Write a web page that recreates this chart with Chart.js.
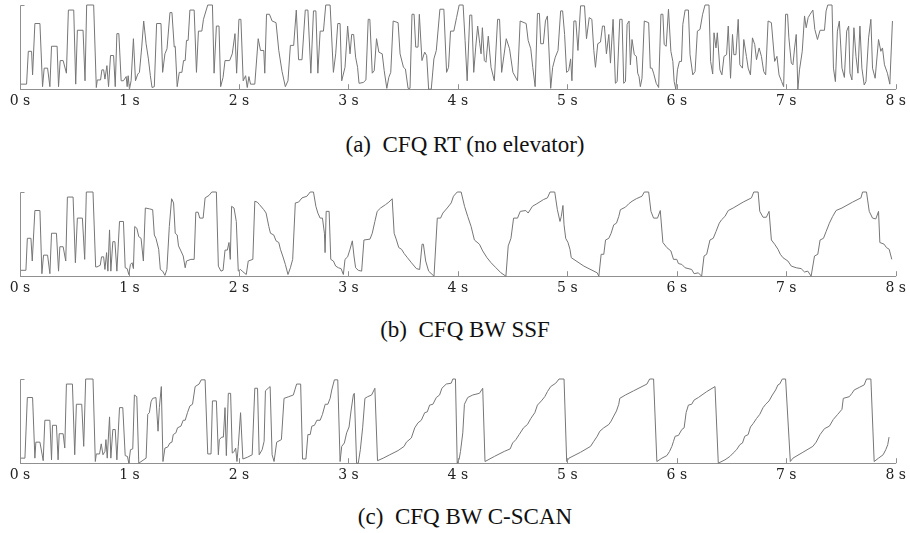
<!DOCTYPE html>
<html>
<head>
<meta charset="utf-8">
<script src="https://cdn.jsdelivr.net/npm/chart.js@4.4.0/dist/chart.umd.min.js"></script>
<style>
  body { margin: 0; background: #fff; width: 910px; height: 533px; position: relative; overflow: hidden; }
  .panel { position: absolute; left: 0; width: 910px; height: 114px; }
  .caption { position: absolute; left: 0; width: 930px; text-align: center; font-family: "Liberation Serif", serif; font-size: 23px; line-height: 26px; color: #111; }
</style>
</head>
<body>
<div class="panel" style="top:0px"><canvas id="chartA"></canvas></div>
<div class="caption" id="capA" style="top:132px"></div>
<div class="panel" style="top:187px"><canvas id="chartB"></canvas></div>
<div class="caption" id="capB" style="top:317px"></div>
<div class="panel" style="top:374px"><canvas id="chartC"></canvas></div>
<div class="caption" id="capC" style="top:504px"></div>
<script>
// seconds on x, head position (0 = bottom, 100 = top of panel) on y
const secondLabels = ['0 s', '1 s', '2 s', '3 s', '4 s', '5 s', '6 s', '7 s', '8 s'];
const captions = ['(a)\u2002CFQ RT (no elevator)', '(b)\u2002CFQ BW SSF', '(c)\u2002CFQ BW C-SCAN'];

const rtTrace = [
  [0.006,6],[0.06,6],[0.076,45],[0.106,45],[0.115,17],[0.136,78],[0.182,78],[0.206,3],[0.221,25],[0.252,25],
  [0.273,3],[0.288,51],[0.339,51],[0.352,3],[0.367,34],[0.394,34],[0.424,19],[0.442,94],[0.491,94],[0.509,6],
  [0.524,70],[0.576,70],[0.594,10],[0.609,100],[0.673,100],[0.697,2],[0.706,11],[0.736,11],[0.748,23],[0.764,23],
  [0.776,12],[0.794,28],[0.809,3],[0.827,40],[0.855,40],[0.870,3],[0.885,66],[0.903,66],[0.924,10],[0.945,10],
  [0.970,15],[0.979,3],[0.988,16],[1.0,0],[1.015,10],[1.036,60],[1.055,10],[1.076,18],[1.091,20],[1.112,50],
  [1.130,81],[1.152,54],[1.173,36],[1.191,16],[1.206,2],[1.227,3],[1.248,78],[1.288,78],[1.303,20],[1.324,42],
  [1.343,48],[1.370,91],[1.388,91],[1.409,50],[1.418,51],[1.436,3],[1.455,20],[1.479,20],[1.494,34],[1.509,34],
  [1.521,58],[1.536,58],[1.552,94],[1.591,94],[1.612,20],[1.630,69],[1.661,69],[1.676,83],[1.715,100],[1.758,100],
  [1.773,19],[1.794,75],[1.818,75],[1.833,3],[1.855,14],[1.873,34],[1.915,34],[1.939,42],[1.964,66],[1.979,19],
  [2.0,83],[2.018,83],[2.039,10],[2.061,16],[2.076,2],[2.091,15],[2.106,6],[2.145,6],[2.176,60],[2.197,46],
  [2.227,46],[2.236,19],[2.252,89],[2.279,89],[2.303,81],[2.339,79],[2.364,46],[2.394,21],[2.424,3],[2.448,10],
  [2.470,52],[2.5,52],[2.524,94],[2.545,35],[2.576,35],[2.606,94],[2.630,94],[2.657,19],[2.681,93],[2.703,93],
  [2.721,19],[2.742,69],[2.772,69],[2.793,100],[2.833,100],[2.863,20],[2.884,42],[2.903,78],[2.924,78],[2.939,10],
  [2.969,26],[2.993,75],[3.015,42],[3.030,65],[3.048,65],[3.066,38],[3.084,26],[3.097,7],[3.136,8],[3.160,11],
  [3.181,83],[3.196,83],[3.218,19],[3.236,22],[3.257,60],[3.278,44],[3.309,42],[3.327,22],[3.351,1],[3.369,14],
  [3.387,20],[3.409,81],[3.454,79],[3.472,42],[3.503,26],[3.521,24],[3.545,1],[3.563,1],[3.581,89],[3.600,89],
  [3.615,50],[3.636,50],[3.648,89],[3.672,34],[3.697,44],[3.715,40],[3.733,0],[3.757,0],[3.781,36],[3.803,46],
  [3.836,95],[3.872,95],[3.897,20],[3.915,26],[3.933,69],[3.963,69],[3.988,85],[4.012,100],[4.048,100],[4.066,58],
  [4.085,10],[4.109,88],[4.127,88],[4.145,20],[4.163,50],[4.181,75],[4.200,54],[4.212,42],[4.224,73],[4.242,34],
  [4.257,32],[4.278,63],[4.303,26],[4.333,10],[4.363,83],[4.381,83],[4.400,20],[4.442,60],[4.472,48],[4.503,20],
  [4.545,10],[4.569,81],[4.624,78],[4.642,58],[4.666,48],[4.684,26],[4.706,3],[4.727,90],[4.745,90],[4.757,54],
  [4.781,54],[4.800,81],[4.818,87],[4.848,1],[4.866,26],[4.890,38],[4.915,46],[4.939,93],[4.957,93],[4.975,65],
  [4.993,20],[5.012,22],[5.030,36],[5.042,10],[5.060,81],[5.078,81],[5.097,46],[5.121,99],[5.157,99],[5.175,60],
  [5.200,85],[5.224,83],[5.242,46],[5.257,26],[5.278,54],[5.303,56],[5.321,75],[5.339,75],[5.357,42],[5.379,65],
  [5.394,31],[5.418,83],[5.439,7],[5.455,9],[5.479,83],[5.500,83],[5.515,7],[5.531,9],[5.546,77],[5.564,81],
  [5.576,29],[5.591,59],[5.612,41],[5.631,39],[5.643,19],[5.655,15],[5.667,3],[5.682,13],[5.703,81],[5.743,79],
  [5.758,25],[5.773,25],[5.788,19],[5.812,7],[5.834,2],[5.855,89],[5.873,89],[5.885,53],[5.903,51],[5.924,95],
  [5.946,45],[5.964,33],[5.976,9],[5.991,0],[6.006,23],[6.024,33],[6.043,33],[6.055,77],[6.076,94],[6.106,94],
  [6.121,41],[6.146,17],[6.167,21],[6.188,69],[6.212,71],[6.236,89],[6.258,100],[6.294,100],[6.309,33],[6.328,18],
  [6.340,67],[6.358,49],[6.370,67],[6.394,23],[6.412,17],[6.431,39],[6.455,41],[6.470,75],[6.491,13],[6.509,65],
  [6.521,41],[6.540,41],[6.561,83],[6.576,29],[6.600,25],[6.612,59],[6.636,39],[6.652,25],[6.673,17],[6.691,61],
  [6.712,53],[6.728,35],[6.752,49],[6.773,39],[6.794,21],[6.812,17],[6.834,81],[6.864,79],[6.894,33],[6.915,39],
  [6.934,17],[6.958,9],[6.976,3],[6.994,89],[7.012,89],[7.024,61],[7.046,31],[7.061,29],[7.076,49],[7.091,65],
  [7.106,0],[7.121,23],[7.146,45],[7.167,87],[7.182,73],[7.200,85],[7.218,89],[7.243,94],[7.261,71],[7.285,59],
  [7.309,70],[7.349,70],[7.364,93],[7.379,100],[7.418,100],[7.431,25],[7.449,9],[7.467,69],[7.485,81],[7.509,25],
  [7.531,14],[7.552,69],[7.570,75],[7.582,19],[7.600,11],[7.618,73],[7.637,39],[7.655,19],[7.673,75],[7.691,25],
  [7.712,5],[7.728,9],[7.752,61],[7.773,83],[7.788,25],[7.812,13],[7.843,59],[7.864,45],[7.879,49],[7.897,29],
  [7.924,19],[7.946,6],[7.970,81]
];

const ssfTrace = [
  [0.006,7],[0.054,7],[0.067,45],[0.100,45],[0.112,18],[0.136,78],[0.182,78],[0.200,3],[0.215,25],[0.252,25],
  [0.273,3],[0.288,51],[0.333,51],[0.352,6],[0.364,35],[0.394,35],[0.418,18],[0.433,94],[0.485,94],[0.506,16],
  [0.524,69],[0.570,69],[0.591,20],[0.606,100],[0.667,100],[0.691,11],[0.703,11],[0.733,13],[0.745,23],[0.764,23],
  [0.776,8],[0.791,28],[0.803,6],[0.818,55],[0.830,6],[0.848,41],[0.867,41],[0.885,6],[0.909,65],[0.945,65],
  [0.961,10],[0.979,9],[0.994,2],[1.009,14],[1.024,16],[1.036,9],[1.048,59],[1.067,57],[1.085,47],[1.106,45],
  [1.127,18],[1.145,81],[1.182,80],[1.212,79],[1.227,49],[1.242,45],[1.267,32],[1.282,8],[1.303,6],[1.324,1],
  [1.342,8],[1.364,59],[1.385,92],[1.403,87],[1.418,51],[1.436,49],[1.448,36],[1.470,30],[1.491,24],[1.509,10],
  [1.521,18],[1.561,20],[1.591,20],[1.606,76],[1.627,76],[1.642,69],[1.673,69],[1.691,93],[1.727,96],[1.752,100],
  [1.794,100],[1.812,12],[1.836,6],[1.855,7],[1.873,31],[1.894,31],[1.909,40],[1.921,20],[1.933,83],[1.955,81],
  [1.976,65],[1.994,6],[2.015,8],[2.030,6],[2.067,2],[2.085,18],[2.127,20],[2.145,89],[2.167,88],[2.188,85],
  [2.227,79],[2.248,75],[2.273,59],[2.288,51],[2.318,49],[2.339,42],[2.364,40],[2.379,32],[2.400,24],[2.424,14],
  [2.448,2],[2.470,10],[2.491,20],[2.515,87],[2.545,88],[2.576,93],[2.621,95],[2.651,100],[2.681,100],[2.703,83],
  [2.721,75],[2.742,69],[2.763,69],[2.781,51],[2.787,28],[2.797,77],[2.824,77],[2.839,20],[2.863,18],[2.884,12],
  [2.909,10],[2.933,9],[2.954,2],[2.969,20],[2.993,23],[3.015,32],[3.036,42],[3.051,24],[3.066,10],[3.090,7],
  [3.121,6],[3.142,43],[3.197,44],[3.218,51],[3.242,65],[3.263,77],[3.294,81],[3.339,85],[3.370,88],[3.400,92],
  [3.418,51],[3.439,43],[3.460,34],[3.485,32],[3.509,27],[3.539,22],[3.576,16],[3.621,9],[3.651,8],[3.673,38],
  [3.685,38],[3.706,18],[3.733,6],[3.782,0],[3.812,69],[3.842,69],[3.863,75],[3.903,81],[3.939,87],[3.960,95],
  [3.994,100],[4.030,100],[4.061,83],[4.090,71],[4.121,59],[4.151,43],[4.197,38],[4.227,30],[4.266,22],[4.303,16],
  [4.348,10],[4.394,4],[4.439,0],[4.460,36],[4.485,45],[4.509,69],[4.545,69],[4.570,77],[4.621,78],[4.642,75],
  [4.681,83],[4.721,86],[4.782,91],[4.818,93],[4.842,100],[4.885,100],[4.909,79],[4.933,65],[4.945,71],[4.960,84],
  [4.970,61],[4.985,45],[5.006,40],[5.024,32],[5.036,22],[5.151,12],[5.273,4],[5.288,0],[5.309,26],[5.333,26],
  [5.349,43],[5.379,45],[5.400,51],[5.424,61],[5.449,63],[5.470,71],[5.485,79],[5.531,82],[5.561,86],[5.591,89],
  [5.630,92],[5.682,95],[5.703,100],[5.743,100],[5.764,77],[5.788,69],[5.824,69],[5.849,78],[5.873,40],[5.909,34],
  [5.946,30],[5.970,20],[6.000,20],[6.015,15],[6.046,14],[6.076,10],[6.136,8],[6.158,3],[6.197,4],[6.227,0],
  [6.249,24],[6.273,26],[6.303,43],[6.333,45],[6.358,53],[6.388,63],[6.409,67],[6.440,71],[6.470,78],[6.515,81],
  [6.606,88],[6.682,93],[6.703,100],[6.743,100],[6.758,77],[6.788,70],[6.818,70],[6.843,77],[6.864,43],[6.894,38],
  [6.924,32],[6.946,26],[6.970,22],[7.015,18],[7.046,12],[7.091,10],[7.136,9],[7.167,5],[7.197,6],[7.227,0],
  [7.258,24],[7.288,26],[7.309,43],[7.340,45],[7.364,53],[7.394,63],[7.424,71],[7.455,78],[7.509,81],[7.606,88],
  [7.682,93],[7.697,100],[7.733,100],[7.758,77],[7.788,69],[7.818,68],[7.843,77],[7.855,40],[7.894,38],[7.915,34],
  [7.940,32],[7.964,20]
];

const cscanTrace = [
  [0.006,6],[0.045,6],[0.067,78],[0.115,78],[0.136,6],[0.145,25],[0.182,25],[0.212,3],[0.227,51],[0.273,51],
  [0.288,4],[0.297,45],[0.333,45],[0.348,4],[0.358,35],[0.394,35],[0.409,18],[0.424,94],[0.479,94],[0.500,10],
  [0.515,70],[0.564,70],[0.582,20],[0.600,100],[0.667,100],[0.688,2],[0.697,11],[0.727,11],[0.742,23],[0.758,10],
  [0.776,14],[0.785,28],[0.797,6],[0.818,55],[0.830,6],[0.848,40],[0.870,40],[0.885,4],[0.909,66],[0.939,66],
  [0.961,9],[0.982,8],[0.994,0],[1.009,16],[1.030,17],[1.045,81],[1.067,79],[1.085,0],[1.152,6],[1.167,58],
  [1.182,60],[1.197,73],[1.212,77],[1.242,78],[1.261,38],[1.273,66],[1.291,91],[1.306,2],[1.324,18],[1.348,19],
  [1.370,24],[1.388,25],[1.400,34],[1.424,36],[1.439,42],[1.470,44],[1.491,51],[1.509,51],[1.530,60],[1.552,68],
  [1.576,70],[1.600,91],[1.636,94],[1.655,99],[1.691,99],[1.715,11],[1.745,11],[1.758,74],[1.794,74],[1.812,10],
  [1.821,28],[1.842,31],[1.858,31],[1.873,66],[1.885,9],[1.903,83],[1.924,83],[1.939,12],[1.958,14],[1.970,18],
  [1.982,2],[1.994,20],[2.015,60],[2.036,5],[2.076,7],[2.121,10],[2.145,89],[2.170,89],[2.185,10],[2.212,16],
  [2.230,26],[2.242,86],[2.267,89],[2.285,91],[2.303,10],[2.321,2],[2.345,25],[2.388,28],[2.412,77],[2.455,79],
  [2.497,81],[2.527,94],[2.564,94],[2.581,5],[2.612,5],[2.630,34],[2.651,34],[2.666,44],[2.690,45],[2.712,51],
  [2.742,51],[2.763,58],[2.788,70],[2.812,70],[2.833,77],[2.848,87],[2.872,99],[2.903,99],[2.924,2],[2.939,20],
  [2.963,24],[2.984,36],[3.006,43],[3.024,62],[3.045,81],[3.054,83],[3.075,0],[3.090,0],[3.109,16],[3.130,42],
  [3.151,77],[3.176,79],[3.212,81],[3.242,89],[3.266,3],[3.318,6],[3.378,10],[3.454,15],[3.509,20],[3.530,25],
  [3.575,30],[3.606,42],[3.636,48],[3.666,51],[3.697,60],[3.721,61],[3.742,69],[3.772,70],[3.803,78],[3.833,81],
  [3.854,89],[3.894,94],[3.939,95],[3.954,100],[3.978,100],[3.994,0],[4.012,5],[4.024,14],[4.045,36],[4.060,70],
  [4.090,78],[4.136,81],[4.197,83],[4.227,89],[4.248,2],[4.333,8],[4.424,14],[4.478,17],[4.500,24],[4.530,28],
  [4.560,34],[4.600,42],[4.636,46],[4.666,53],[4.703,60],[4.727,69],[4.763,74],[4.794,79],[4.818,85],[4.848,91],
  [4.894,95],[4.924,100],[4.970,100],[4.994,2],[5.015,6],[5.121,13],[5.212,20],[5.242,26],[5.273,32],[5.297,38],
  [5.333,42],[5.379,46],[5.400,50],[5.424,56],[5.449,62],[5.470,70],[5.479,77],[5.531,81],[5.606,86],[5.727,94],
  [5.752,100],[5.788,100],[5.818,2],[5.864,6],[5.909,9],[5.934,14],[5.955,20],[5.970,26],[5.985,32],[6.015,33],
  [6.046,40],[6.067,42],[6.085,60],[6.106,69],[6.136,70],[6.158,75],[6.197,78],[6.273,85],[6.349,91],[6.379,0],
  [6.440,4],[6.485,8],[6.515,12],[6.546,16],[6.576,22],[6.600,24],[6.621,32],[6.652,34],[6.673,43],[6.697,47],
  [6.728,53],[6.758,58],[6.788,66],[6.812,70],[6.843,74],[6.873,81],[6.903,87],[6.924,93],[6.940,94],[6.964,100],
  [6.994,100],[7.037,2],[7.061,6],[7.152,13],[7.243,20],[7.273,25],[7.309,34],[7.349,41],[7.394,44],[7.430,52],
  [7.470,58],[7.509,64],[7.521,77],[7.576,79],[7.600,83],[7.621,87],[7.667,90],[7.712,93],[7.733,100],[7.773,100],
  [7.803,2],[7.843,6],[7.885,10],[7.909,16],[7.927,22],[7.939,31]
];

const lineColor = '#767676';
const axisColor = '#909090';

// little tick marks pointing up from the axis, plus the bracket on the left
const axisMarks = {
  id: 'axisMarks',
  afterDatasetsDraw(chart) {
    const ctx = chart.ctx;
    const area = chart.chartArea;
    const xs = chart.scales.x;
    ctx.save();
    ctx.strokeStyle = axisColor;
    ctx.lineWidth = 1;
    ctx.beginPath();
    const x0 = Math.round(xs.getPixelForValue(0)) + 0.5;
    const top = Math.round(area.top) + 0.5;
    ctx.moveTo(x0 + 4, top);
    ctx.lineTo(x0, top);
    ctx.lineTo(x0, area.bottom);
    for (let s = 1; s < secondLabels.length; s++) {
      const px = Math.round(xs.getPixelForValue(s)) + 0.5;
      ctx.moveTo(px, area.bottom);
      ctx.lineTo(px, area.bottom - 5);
    }
    ctx.stroke();
    ctx.restore();
  }
};

function makeChart(id, trace) {
  const ctx = document.getElementById(id).getContext('2d');
  return new Chart(ctx, {
    type: 'line',
    data: {
      datasets: [{
        data: trace.map(p => ({ x: p[0], y: p[1] })),
        borderColor: lineColor,
        borderWidth: 1,
        pointRadius: 0,
        tension: 0,
        fill: false,
        clip: false
      }]
    },
    options: {
      responsive: true,
      maintainAspectRatio: false,
      animation: false,
      events: [],
      layout: { padding: { left: 20, right: 10, top: 5, bottom: 0 } },
      plugins: { legend: { display: false }, tooltip: { enabled: false } },
      scales: {
        x: {
          type: 'linear',
          min: 0,
          max: 8,
          grid: { display: false, drawTicks: false },
          border: { display: true, color: axisColor, width: 1 },
          ticks: {
            stepSize: 1,
            padding: 4,
            maxRotation: 0,
            color: '#222',
            font: { family: "'DejaVu Serif', serif", size: 14 },
            callback: (v) => secondLabels[v]
          }
        },
        y: { display: false, min: 0, max: 100 }
      }
    },
    plugins: [axisMarks]
  });
}

makeChart('chartA', rtTrace);
makeChart('chartB', ssfTrace);
makeChart('chartC', cscanTrace);

document.getElementById('capA').textContent = captions[0];
document.getElementById('capB').textContent = captions[1];
document.getElementById('capC').textContent = captions[2];
</script>
</body>
</html>
